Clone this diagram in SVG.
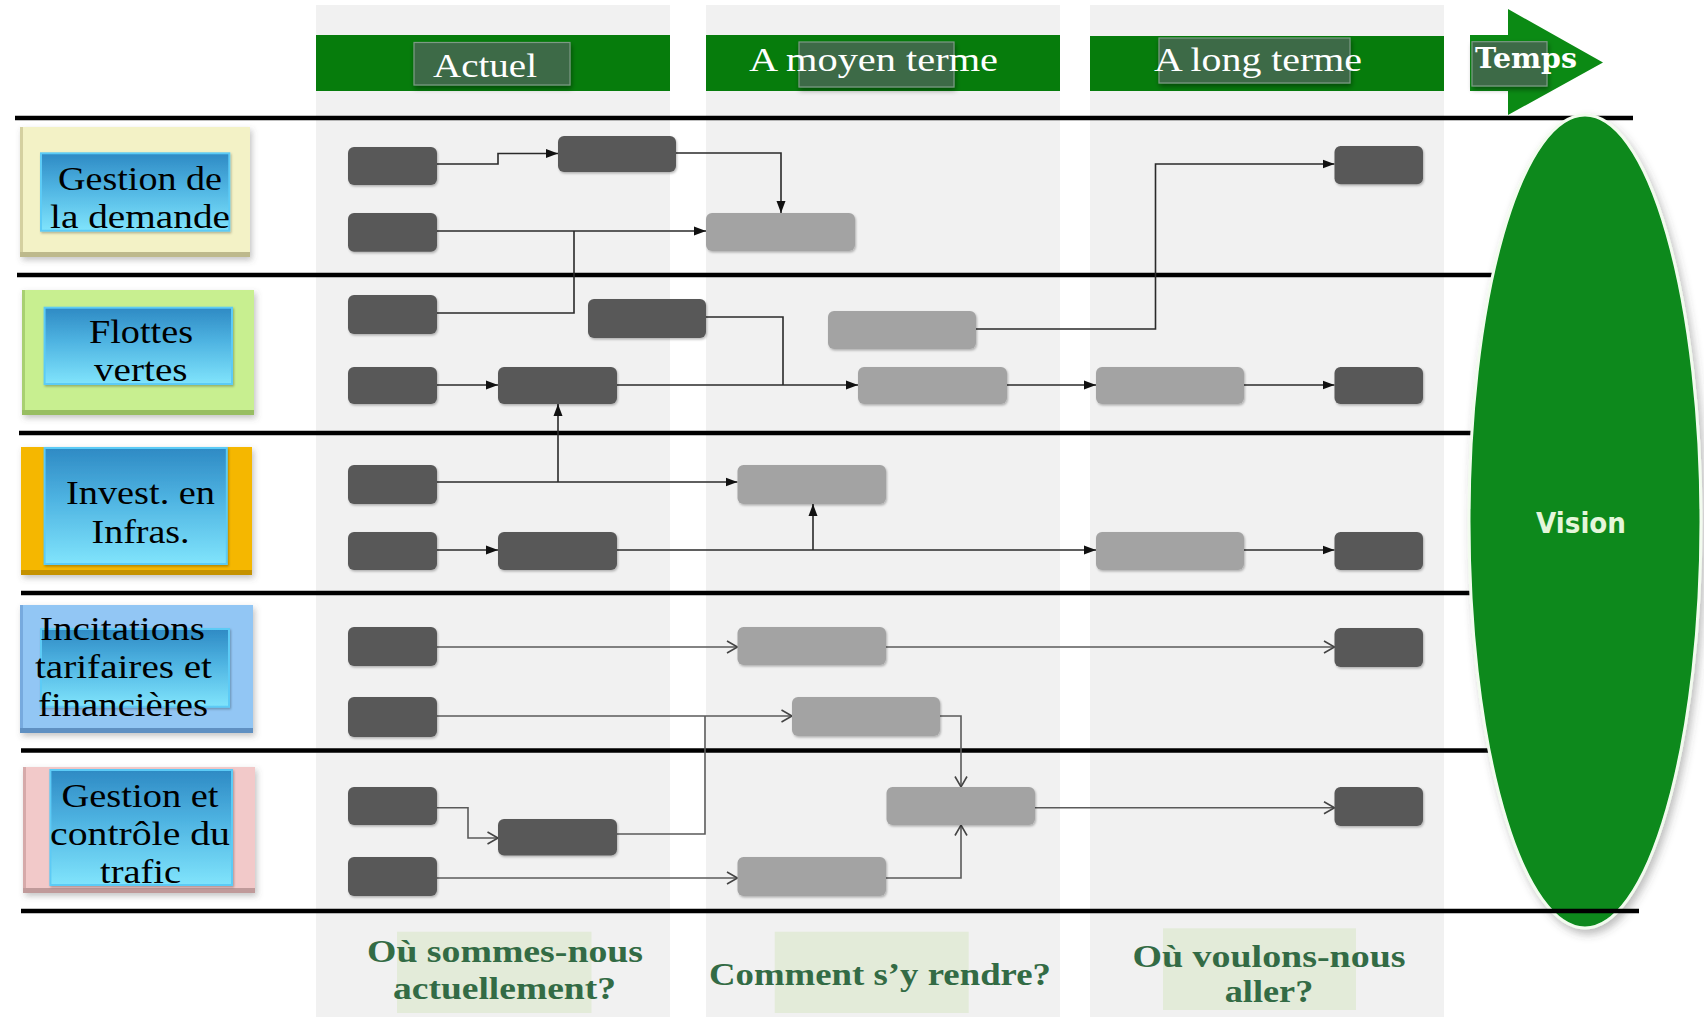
<svg xmlns="http://www.w3.org/2000/svg" width="1704" height="1017" viewBox="0 0 1704 1017">
  <defs>
    <style>
      .band{fill:#f1f1f1}
      .hdr{fill:#067c0c}
      .hdrbox{fill:#3d6a47;stroke:#7d9a85;stroke-width:1.2}
      .hdrtxt{font-family:"Liberation Serif",serif;fill:#ffffff;text-anchor:middle}
      .lane{stroke:#000;stroke-width:4.5;fill:none}
      .dk{fill:#595959}
      .lt{fill:#a3a3a3}
      .cat text{font-family:"Liberation Serif",serif;font-size:34px;fill:#000;text-anchor:middle}
      .inner{fill:url(#blueGrad);stroke:#5ccbf6;stroke-width:2}
      .solid{fill:none;stroke:#2a2a2a;stroke-width:1.6;marker-end:url(#arrowSolid)}
      .solidn{fill:none;stroke:#2a2a2a;stroke-width:1.6}
      .open{fill:none;stroke:#5a5a5a;stroke-width:1.6;marker-end:url(#arrowOpen)}
      .openn{fill:none;stroke:#5a5a5a;stroke-width:1.6}
      .q{font-family:"Liberation Serif",serif;font-weight:bold;font-size:32px;fill:#336b45;text-anchor:middle}
      .qbg{fill:#e3ebd9}
    </style>
    <linearGradient id="blueGrad" x1="0" y1="0" x2="0" y2="1">
      <stop offset="0" stop-color="#2e8ac4"/>
      <stop offset="0.45" stop-color="#4fb4e2"/>
      <stop offset="1" stop-color="#80e4fc"/>
    </linearGradient>
    <filter id="boxShadow" x="-10%" y="-10%" width="125%" height="130%">
      <feDropShadow dx="1" dy="1.5" stdDeviation="1.2" flood-color="#000" flood-opacity="0.28"/>
    </filter>
    <filter id="catShadow" x="-10%" y="-10%" width="125%" height="130%">
      <feDropShadow dx="2" dy="3" stdDeviation="3" flood-color="#555" flood-opacity="0.35"/>
    </filter>
    <filter id="hdrShadow" x="-10%" y="-20%" width="120%" height="150%">
      <feDropShadow dx="1" dy="3" stdDeviation="2.5" flood-color="#000" flood-opacity="0.4"/>
    </filter>
    <filter id="ovalShadow" x="-20%" y="-5%" width="140%" height="112%">
      <feDropShadow dx="3" dy="5" stdDeviation="4" flood-color="#444" flood-opacity="0.35"/>
    </filter>
    <marker id="arrowSolid" markerUnits="userSpaceOnUse" markerWidth="13" markerHeight="11" refX="12" refY="5" orient="auto">
      <path d="M0,0.5 L12,5 L0,9.5 Z" fill="#111"/>
    </marker>
    <marker id="arrowOpen" markerUnits="userSpaceOnUse" markerWidth="14" markerHeight="14" refX="11.5" refY="7" orient="auto">
      <path d="M1,1 L11.5,7 L1,13" fill="none" stroke="#444" stroke-width="1.6"/>
    </marker>
  </defs>

  <rect width="1704" height="1017" fill="#ffffff"/>

  <!-- time period columns -->
  <g id="columns">
    <rect class="band" x="316" y="5" width="354" height="1012"/>
    <rect class="band" x="706" y="5" width="354" height="1012"/>
    <rect class="band" x="1090" y="5" width="354" height="1012"/>
  </g>

  <!-- column headers -->
  <g id="header-actuel">
    <rect class="hdr" x="316" y="35" width="354" height="56"/>
    <rect class="hdrbox" x="414" y="42.5" width="156" height="42.5" filter="url(#hdrShadow)"/>
    <text class="hdrtxt" x="485" y="76.7" font-size="34" textLength="104" lengthAdjust="spacingAndGlyphs">Actuel</text>
  </g>
  <g id="header-moyen">
    <rect class="hdr" x="706" y="35" width="354" height="56"/>
    <rect class="hdrbox" x="799" y="42" width="155" height="45" filter="url(#hdrShadow)"/>
    <text class="hdrtxt" x="873.5" y="71" font-size="33" textLength="249" lengthAdjust="spacingAndGlyphs">A moyen terme</text>
  </g>
  <g id="header-long">
    <rect class="hdr" x="1090" y="36" width="354" height="55"/>
    <rect class="hdrbox" x="1159" y="38" width="191" height="45" filter="url(#hdrShadow)"/>
    <text class="hdrtxt" x="1258" y="71" font-size="33" textLength="208" lengthAdjust="spacingAndGlyphs">A long terme</text>
  </g>
  <g id="header-temps">
    <path d="M1470,35 H1508 V9 L1603,62.5 L1508,115 V91 H1470 Z" fill="#0b8a14"/>
    <rect class="hdrbox" x="1472" y="41.7" width="75" height="44.3" filter="url(#hdrShadow)"/>
    <text x="1526" y="68.3" font-family="'DejaVu Serif',serif" font-weight="bold" font-size="27" fill="#ffffff" text-anchor="middle" textLength="102" lengthAdjust="spacingAndGlyphs">Temps</text>
  </g>

  <!-- swimlane separators -->
  <g id="lanes">
    <line class="lane" x1="15" y1="118" x2="1633" y2="118"/>
    <line class="lane" x1="17" y1="275" x2="1500" y2="275"/>
    <line class="lane" x1="19" y1="433" x2="1480" y2="433"/>
    <line class="lane" x1="21" y1="593" x2="1480" y2="593"/>
    <line class="lane" x1="21" y1="750.5" x2="1495" y2="750.5"/>
  </g>

  <!-- vision -->
  <g id="vision">
    <ellipse cx="1585" cy="521.5" rx="116" ry="406.5" fill="#07891a" stroke="#f2fbee" stroke-width="3" filter="url(#ovalShadow)"/>
    <text x="1581" y="533" font-family="'DejaVu Sans',sans-serif" font-weight="bold" font-size="28" fill="#e4f6da" text-anchor="middle" textLength="90" lengthAdjust="spacingAndGlyphs">Vision</text>
  </g>

  <g id="lane-bottom">
    <line class="lane" x1="21" y1="911" x2="1639" y2="911"/>
  </g>

  <!-- category labels -->
  <g id="cat-demande" class="cat">
    <rect x="20" y="127" width="230" height="130" fill="#f3f2c6" filter="url(#catShadow)"/>
    <rect x="20" y="127" width="3" height="130" fill="#d4d0a0"/>
    <rect x="20" y="252" width="230" height="5" fill="#bdb98c"/>
    <rect class="inner" x="41" y="153.3" width="188.3" height="77.4" filter="url(#boxShadow)"/>
    <text x="140" y="190" textLength="164" lengthAdjust="spacingAndGlyphs">Gestion de</text>
    <text x="140" y="227.5" textLength="180" lengthAdjust="spacingAndGlyphs">la demande</text>
  </g>
  <g id="cat-flottes" class="cat">
    <rect x="22" y="290" width="232" height="125" fill="#c8ef90" filter="url(#catShadow)"/>
    <rect x="22" y="290" width="3" height="125" fill="#a8d071"/>
    <rect x="22" y="410" width="232" height="5" fill="#98be62"/>
    <rect class="inner" x="44.6" y="307.7" width="187.4" height="76.3" filter="url(#boxShadow)"/>
    <text x="141" y="342.7" textLength="104" lengthAdjust="spacingAndGlyphs">Flottes</text>
    <text x="140.8" y="380.7" textLength="93.5" lengthAdjust="spacingAndGlyphs">vertes</text>
  </g>
  <g id="cat-infras" class="cat">
    <rect x="21" y="447" width="231" height="128" fill="#f5b700" filter="url(#catShadow)"/>
    <rect x="21" y="570" width="231" height="5" fill="#c59200"/>
    <rect class="inner" x="44.6" y="448" width="182.2" height="116" filter="url(#boxShadow)"/>
    <text x="140.5" y="504" textLength="149" lengthAdjust="spacingAndGlyphs">Invest. en</text>
    <text x="140.6" y="542.7" textLength="98" lengthAdjust="spacingAndGlyphs">Infras.</text>
  </g>
  <g id="cat-incitations" class="cat">
    <rect x="20" y="605" width="233" height="128" fill="#92c6f4" filter="url(#catShadow)"/>
    <rect x="20" y="605" width="3" height="128" fill="#77aade"/>
    <rect x="20" y="728" width="233" height="5" fill="#5f90c2"/>
    <rect class="inner" x="41" y="629" width="188" height="77.7" filter="url(#boxShadow)"/>
    <text x="122.5" y="640" textLength="165" lengthAdjust="spacingAndGlyphs">Incitations</text>
    <text x="123.5" y="678" textLength="177" lengthAdjust="spacingAndGlyphs">tarifaires et</text>
    <text x="123" y="716" textLength="170" lengthAdjust="spacingAndGlyphs">financières</text>
  </g>
  <g id="cat-trafic" class="cat">
    <rect x="23" y="767" width="232" height="126" fill="#f2c9c9" filter="url(#catShadow)"/>
    <rect x="23" y="767" width="3" height="126" fill="#d6aaaa"/>
    <rect x="23" y="888" width="232" height="5" fill="#c09a9a"/>
    <rect class="inner" x="50.4" y="770" width="181.6" height="115" filter="url(#boxShadow)"/>
    <text x="140" y="806.7" textLength="157" lengthAdjust="spacingAndGlyphs">Gestion et</text>
    <text x="140" y="845" textLength="180" lengthAdjust="spacingAndGlyphs">contrôle du</text>
    <text x="140.5" y="883" textLength="81" lengthAdjust="spacingAndGlyphs">trafic</text>
  </g>

  <!-- connectors -->
  <g id="connectors">
    <path class="solid" d="M437,164 H498 V153.5 H558"/>
    <path class="solid" d="M676,153 H781 V213"/>
    <path class="solid" d="M437,231 H706"/>
    <path class="solidn" d="M437,313 H574 V231"/>
    <path class="solid" d="M976,329 H1155.5 V164 H1334.5"/>
    <path class="solidn" d="M706,317 H783 V385"/>
    <path class="solid" d="M437,385 H498"/>
    <path class="solid" d="M617,385 H858"/>
    <path class="solid" d="M1007,385 H1096"/>
    <path class="solid" d="M1244,385 H1334.5"/>
    <path class="solid" d="M437,482 H737.5"/>
    <path class="solid" d="M558,482 V404"/>
    <path class="solid" d="M437,550 H498"/>
    <path class="solid" d="M617,550 H1096"/>
    <path class="solid" d="M813,550 V504"/>
    <path class="solid" d="M1244,550 H1334.5"/>

    <path class="open" d="M437,647 H737.5"/>
    <path class="open" d="M886,647 H1334.5"/>
    <path class="open" d="M437,716 H792"/>
    <path class="open" d="M940,716 H961 V787"/>
    <path class="open" d="M437,807.7 H468 V838 H498"/>
    <path class="openn" d="M617,834 H705 V716"/>
    <path class="open" d="M437,878 H737.5"/>
    <path class="open" d="M886,878 H961 V825"/>
    <path class="open" d="M1035,807.7 H1334.5"/>
  </g>

  <!-- roadmap steps -->
  <g id="step-d1"><rect class="dk" x="348" y="147" width="89" height="38" rx="6" filter="url(#boxShadow)"/></g>
  <g id="step-d2"><rect class="dk" x="558" y="136" width="118" height="36" rx="6" filter="url(#boxShadow)"/></g>
  <g id="step-d3"><rect class="dk" x="348" y="213" width="89" height="38.7" rx="6" filter="url(#boxShadow)"/></g>
  <g id="step-l1"><rect class="lt" x="706" y="213" width="149" height="38" rx="6" filter="url(#boxShadow)"/></g>
  <g id="step-d4"><rect class="dk" x="1334.5" y="146" width="88.5" height="38.3" rx="6" filter="url(#boxShadow)"/></g>

  <g id="step-d5"><rect class="dk" x="348" y="295" width="89" height="39" rx="6" filter="url(#boxShadow)"/></g>
  <g id="step-d6"><rect class="dk" x="588" y="299" width="118" height="39" rx="6" filter="url(#boxShadow)"/></g>
  <g id="step-l2"><rect class="lt" x="828" y="311" width="148" height="38" rx="6" filter="url(#boxShadow)"/></g>
  <g id="step-d7"><rect class="dk" x="348" y="367" width="89" height="37" rx="6" filter="url(#boxShadow)"/></g>
  <g id="step-d8"><rect class="dk" x="498" y="367" width="119" height="37" rx="6" filter="url(#boxShadow)"/></g>
  <g id="step-l3"><rect class="lt" x="858" y="367" width="149" height="37" rx="6" filter="url(#boxShadow)"/></g>
  <g id="step-l4"><rect class="lt" x="1096" y="367" width="148" height="37" rx="6" filter="url(#boxShadow)"/></g>
  <g id="step-d9"><rect class="dk" x="1334.5" y="367" width="88.5" height="37" rx="6" filter="url(#boxShadow)"/></g>

  <g id="step-d10"><rect class="dk" x="348" y="465" width="89" height="39" rx="6" filter="url(#boxShadow)"/></g>
  <g id="step-l5"><rect class="lt" x="737.5" y="465" width="148.5" height="39" rx="6" filter="url(#boxShadow)"/></g>
  <g id="step-d11"><rect class="dk" x="348" y="532" width="89" height="38" rx="6" filter="url(#boxShadow)"/></g>
  <g id="step-d12"><rect class="dk" x="498" y="532" width="119" height="38" rx="6" filter="url(#boxShadow)"/></g>
  <g id="step-l6"><rect class="lt" x="1096" y="532" width="148" height="38" rx="6" filter="url(#boxShadow)"/></g>
  <g id="step-d13"><rect class="dk" x="1334.5" y="532" width="88.5" height="38" rx="6" filter="url(#boxShadow)"/></g>

  <g id="step-d14"><rect class="dk" x="348" y="627" width="89" height="39" rx="6" filter="url(#boxShadow)"/></g>
  <g id="step-l7"><rect class="lt" x="737.5" y="627" width="148.5" height="38" rx="6" filter="url(#boxShadow)"/></g>
  <g id="step-d15"><rect class="dk" x="1334.5" y="628" width="88.5" height="39" rx="6" filter="url(#boxShadow)"/></g>
  <g id="step-d16"><rect class="dk" x="348" y="697" width="89" height="40" rx="6" filter="url(#boxShadow)"/></g>
  <g id="step-l8"><rect class="lt" x="792" y="697" width="148" height="39" rx="6" filter="url(#boxShadow)"/></g>

  <g id="step-d17"><rect class="dk" x="348" y="787" width="89" height="38" rx="6" filter="url(#boxShadow)"/></g>
  <g id="step-d18"><rect class="dk" x="498" y="819" width="119" height="36.5" rx="6" filter="url(#boxShadow)"/></g>
  <g id="step-d19"><rect class="dk" x="348" y="857" width="89" height="39" rx="6" filter="url(#boxShadow)"/></g>
  <g id="step-l9"><rect class="lt" x="886.5" y="787" width="148.5" height="38" rx="6" filter="url(#boxShadow)"/></g>
  <g id="step-l10"><rect class="lt" x="737.5" y="857" width="148.5" height="39" rx="6" filter="url(#boxShadow)"/></g>
  <g id="step-d20"><rect class="dk" x="1334.5" y="787" width="88.5" height="39" rx="6" filter="url(#boxShadow)"/></g>

  <!-- guiding questions -->
  <g id="question-actuel">
    <rect class="qbg" x="397" y="931.7" width="194.5" height="81.3"/>
    <text class="q" x="505" y="961.7" textLength="276" lengthAdjust="spacingAndGlyphs">Où sommes-nous</text>
    <text class="q" x="504.5" y="999" textLength="223" lengthAdjust="spacingAndGlyphs">actuellement?</text>
  </g>
  <g id="question-moyen">
    <rect class="qbg" x="774.7" y="931.7" width="194" height="81.3"/>
    <text class="q" x="880" y="985" textLength="342" lengthAdjust="spacingAndGlyphs">Comment s’y rendre?</text>
  </g>
  <g id="question-long">
    <rect class="qbg" x="1163" y="928.3" width="193" height="81.7"/>
    <text class="q" x="1269" y="966.7" textLength="273" lengthAdjust="spacingAndGlyphs">Où voulons-nous</text>
    <text class="q" x="1269" y="1001.7" textLength="88.5" lengthAdjust="spacingAndGlyphs">aller?</text>
  </g>
</svg>
